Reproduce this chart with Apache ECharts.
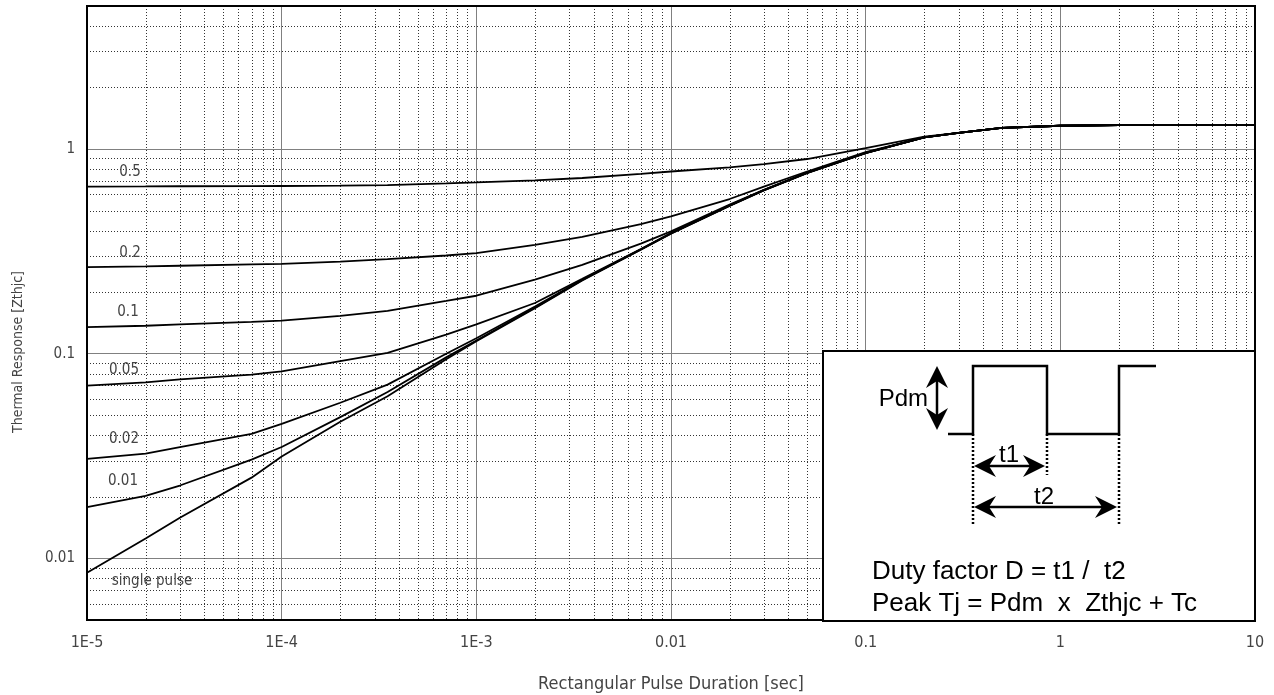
<!DOCTYPE html>
<html><head><meta charset="utf-8">
<script src="https://cdn.jsdelivr.net/npm/echarts@6/dist/echarts.min.js"></script>
<style>html,body{margin:0;padding:0;background:#fff}#c{width:1274px;height:695px}</style>
</head><body><div id="c"></div>
<script>
// Pulse duration (s)
const pulseTimes = [1e-5, 2e-5, 3e-5, 7e-5, 1e-4, 2e-4, 3.5e-4, 7e-4, 1e-3, 2e-3, 3.5e-3, 7e-3, 1e-2, 2e-2, 3e-2, 5e-2, 0.1, 0.2, 0.3, 0.5, 1, 2, 5, 10];
// Thermal response for each duty factor
const zD050 = [0.656, 0.657, 0.658, 0.659, 0.660, 0.663, 0.667, 0.680, 0.687, 0.703, 0.722, 0.757, 0.777, 0.813, 0.845, 0.894, 1.01, 1.15, 1.20, 1.27, 1.30, 1.31, 1.31, 1.31];
const zD020 = [0.265, 0.267, 0.269, 0.273, 0.275, 0.282, 0.290, 0.302, 0.310, 0.340, 0.372, 0.430, 0.469, 0.570, 0.656, 0.777, 0.965, 1.14, 1.20, 1.27, 1.30, 1.31, 1.31, 1.31];
const zD010 = [0.135, 0.137, 0.139, 0.143, 0.145, 0.153, 0.162, 0.181, 0.192, 0.230, 0.272, 0.345, 0.396, 0.535, 0.632, 0.767, 0.959, 1.14, 1.20, 1.27, 1.30, 1.31, 1.31, 1.31];
const zD005 = [0.0698, 0.0724, 0.075, 0.079, 0.082, 0.092, 0.101, 0.124, 0.139, 0.177, 0.232, 0.325, 0.389, 0.531, 0.631, 0.766, 0.958, 1.14, 1.20, 1.27, 1.30, 1.31, 1.31, 1.31];
const zD002 = [0.0306, 0.0325, 0.035, 0.0406, 0.0454, 0.0576, 0.0706, 0.100, 0.119, 0.170, 0.230, 0.324, 0.388, 0.530, 0.630, 0.765, 0.957, 1.14, 1.20, 1.27, 1.30, 1.31, 1.31, 1.31];
const zD001 = [0.0178, 0.0202, 0.0227, 0.0304, 0.035, 0.049, 0.065, 0.096, 0.116, 0.168, 0.229, 0.323, 0.387, 0.529, 0.629, 0.764, 0.956, 1.14, 1.20, 1.27, 1.30, 1.31, 1.31, 1.31];
const zSingle = [0.0085, 0.0125, 0.0158, 0.0248, 0.0315, 0.0465, 0.062, 0.094, 0.115, 0.167, 0.228, 0.322, 0.386, 0.528, 0.628, 0.763, 0.955, 1.14, 1.20, 1.27, 1.30, 1.31, 1.31, 1.31];
const seriesNames = ['0.5', '0.2', '0.1', '0.05', '0.02', '0.01', 'single pulse'];
const xTickLabels = ['1E-5', '1E-4', '1E-3', '0.01', '0.1', '1', '10'];
const yTickLabels = ['0.01', '0.1', '1'];
const xDecades = [-5, -4, -3, -2, -1, 0];
const yDecades = [-3, -2, -1, 0];

const allZ = [zD050, zD020, zD010, zD005, zD002, zD001, zSingle];
const X_MIN = 1e-5, X_MAX = 10, Y_MIN = 0.005, Y_MAX = 5;

// minor grid positions (2..9 within each decade)
const xMinor = [];
xDecades.forEach(d => { for (let k = 2; k <= 9; k++) xMinor.push(k * Math.pow(10, d)); });
const yMinor = [];
yDecades.forEach(d => { for (let k = 2; k <= 9; k++) { const v = k * Math.pow(10, d); if (v > Y_MIN && v < Y_MAX) yMinor.push(v); } });

const FONT = '"DejaVu Sans Condensed", "DejaVu Sans"';
const thin = { fontFamily: FONT, fontSize: 15, color: '#444' };
const dotStyle = { stroke: '#333', lineWidth: 1, lineDash: [1, 2] };

const series = allZ.map((z, i) => ({
  name: seriesNames[i], type: 'line', z: 5, symbol: 'none', smooth: false, silent: true,
  lineStyle: { color: '#000', width: 1.8 },
  data: pulseTimes.map((t, j) => [t, z[j]])
}));
series.unshift({
  type: 'custom', z: 1, silent: true, encode: { x: 0, y: 1 },
  data: xMinor.map(v => [v, 1]),
  renderItem: (params, api) => {
    const v = api.value(0);
    const a = api.coord([v, Y_MAX]), b = api.coord([v, Y_MIN]);
    const x = Math.round(a[0]) + 0.5;
    return { type: 'line', shape: { x1: x, y1: a[1], x2: x, y2: b[1] }, style: dotStyle };
  }
}, {
  type: 'custom', z: 1, silent: true, encode: { x: 0, y: 1 },
  data: yMinor.map(v => [1e-3, v]),
  renderItem: (params, api) => {
    const v = api.value(1);
    const a = api.coord([X_MIN, v]), b = api.coord([X_MAX, v]);
    const y = Math.round(a[1]) + 0.5;
    return { type: 'line', shape: { x1: a[0], y1: y, x2: b[0], y2: y }, style: dotStyle };
  }
});

const L = 87, T = 6, R = 1255, B = 620;
const txt = (text, x, y, opt) => Object.assign({ type: 'text', z: 60, x, y, style: Object.assign({ text, fill: '#444', font: '15px ' + FONT, align: 'center', verticalAlign: 'middle' }, opt || {}) });
const arial = (sz) => sz + 'px "Liberation Sans", Arial, sans-serif';
const blk = { stroke: '#000', lineWidth: 2.5, fill: null };
const head = (pts) => ({ type: 'polygon', z: 110, shape: { points: pts }, style: { fill: '#000' } });

const graphics = [
  { type: 'rect', z: 50, shape: { x: L, y: T, width: R - L, height: B - T }, style: { fill: null, stroke: '#000', lineWidth: 2 } },
  txt(seriesNames[0], 130, 172),
  txt(seriesNames[1], 130, 253),
  txt(seriesNames[2], 128, 312),
  txt(seriesNames[3], 124, 370),
  txt(seriesNames[4], 124, 439),
  txt(seriesNames[5], 123, 481),
  txt(seriesNames[6], 152, 581, { font: '15px ' + FONT }),
  { type: 'text', z: 60, x: 18, y: 352, rotation: Math.PI / 2, style: { text: 'Thermal Response [Zthjc]', fill: '#444', font: '14px ' + FONT, align: 'center', verticalAlign: 'middle' } },
  // inset
  { type: 'rect', z: 100, shape: { x: 823, y: 351, width: 432, height: 270 }, style: { fill: '#fff', stroke: '#000', lineWidth: 2 } },
  { type: 'polyline', z: 110, shape: { points: [[948, 434], [973, 434], [973, 366], [1047, 366], [1047, 434], [1119, 434], [1119, 366], [1156, 366]] }, style: blk },
  { type: 'line', z: 110, shape: { x1: 973, y1: 434, x2: 973, y2: 525 }, style: { stroke: '#000', lineWidth: 2.5, lineDash: [2, 2] } },
  { type: 'line', z: 110, shape: { x1: 1047, y1: 434, x2: 1047, y2: 475 }, style: { stroke: '#000', lineWidth: 2.5, lineDash: [2, 2] } },
  { type: 'line', z: 110, shape: { x1: 1119, y1: 434, x2: 1119, y2: 525 }, style: { stroke: '#000', lineWidth: 2.5, lineDash: [2, 2] } },
  { type: 'line', z: 110, shape: { x1: 980, y1: 466, x2: 1038, y2: 466 }, style: blk },
  head([[974, 466], [996, 455], [989, 466], [996, 477]]),
  head([[1045, 466], [1023, 455], [1030, 466], [1023, 477]]),
  { type: 'line', z: 110, shape: { x1: 980, y1: 507, x2: 1110, y2: 507 }, style: blk },
  head([[974, 507], [996, 496], [989, 507], [996, 518]]),
  head([[1117, 507], [1095, 496], [1102, 507], [1095, 518]]),
  { type: 'line', z: 110, shape: { x1: 937, y1: 373, x2: 937, y2: 423 }, style: blk },
  head([[937, 366], [926, 388], [937, 381], [948, 388]]),
  head([[937, 430], [926, 408], [937, 415], [948, 408]]),
  { type: 'text', z: 110, x: 928, y: 399, style: { text: 'Pdm', fill: '#000', font: arial(24), align: 'right', verticalAlign: 'middle' } },
  { type: 'text', z: 110, x: 1009, y: 455, style: { text: 't1', fill: '#000', font: arial(24), align: 'center', verticalAlign: 'middle' } },
  { type: 'text', z: 110, x: 1044, y: 497, style: { text: 't2', fill: '#000', font: arial(24), align: 'center', verticalAlign: 'middle' } },
  { type: 'text', z: 110, x: 872, y: 572, style: { text: 'Duty factor D = t1 /  t2', fill: '#000', font: arial(26), align: 'left', verticalAlign: 'middle' } },
  { type: 'text', z: 110, x: 872, y: 604, style: { text: 'Peak Tj = Pdm  x  Zthjc + Tc', fill: '#000', font: arial(26), align: 'left', verticalAlign: 'middle' } }
];

const chart = echarts.init(document.getElementById('c'), null, { renderer: 'canvas' });
chart.setOption({
  animation: false,
  backgroundColor: '#fff',
  grid: { left: L, right: 1274 - R, top: T, bottom: 695 - B, containLabel: false, outerBoundsMode: 'none' },
  xAxis: {
    type: 'log', logBase: 10, min: X_MIN, max: X_MAX,
    axisLine: { show: false }, axisTick: { show: false },
    splitLine: { show: true, lineStyle: { color: '#808080', width: 1 } },
    axisLabel: Object.assign({ margin: 15, formatter: v => { const e = Math.log10(v), r = Math.round(e); return Math.abs(e - r) < 1e-6 ? (xTickLabels[r + 5] || '') : ''; } }, thin, { fontSize: 16 }),
    name: 'Rectangular Pulse Duration [sec]', nameLocation: 'middle', nameGap: 55,
    nameTextStyle: Object.assign({}, thin, { fontSize: 18 })
  },
  yAxis: {
    type: 'log', logBase: 10, min: Y_MIN, max: Y_MAX,
    axisLine: { show: false }, axisTick: { show: false },
    splitLine: { show: true, lineStyle: { color: '#808080', width: 1 } },
    axisLabel: Object.assign({ margin: 12, showMinLabel: false, showMaxLabel: false, formatter: v => { const e = Math.log10(v), r = Math.round(e); return Math.abs(e - r) < 1e-6 ? (yTickLabels[r + 2] || '') : ''; } }, thin)
  },
  series: series,
  graphic: { elements: graphics }
});
</script></body></html>
